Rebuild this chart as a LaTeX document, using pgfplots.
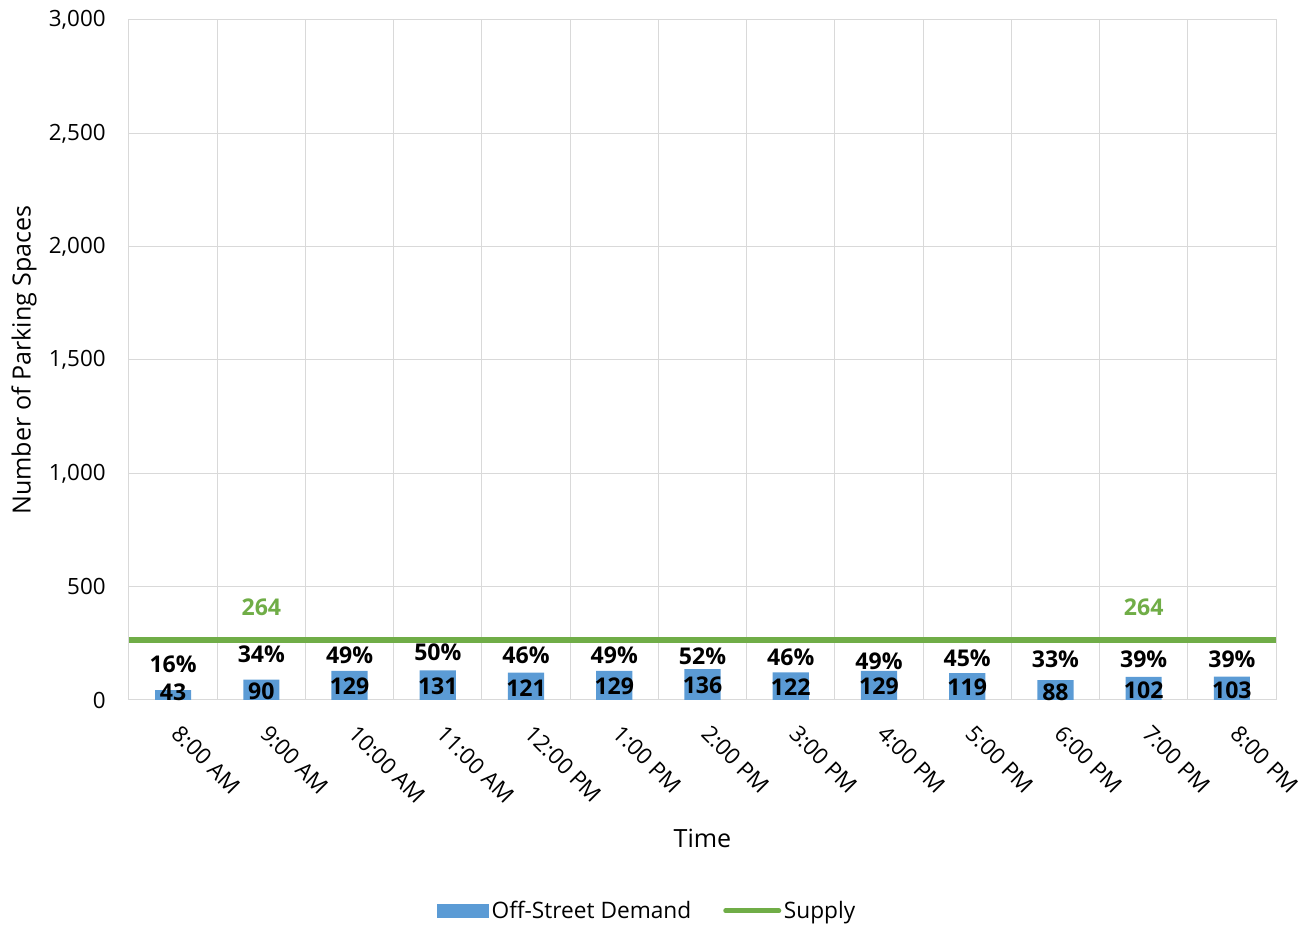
\documentclass[border=0pt]{standalone}
\usepackage{pgfplots}
\pgfplotsset{compat=1.18}
\usepackage{pgfplotstable}
\usepackage{fontspec}
\setmainfont{Open Sans}
\definecolor{barblue}{HTML}{5B9BD5}
\definecolor{supgreen}{HTML}{70AD47}
\definecolor{gridgray}{HTML}{D9D9D9}
\pgfplotstableread{
x demand pct py vy
0 43 16 159 35
1 90 34 203 40
2 129 49 199 62
3 131 50 212 62
4 121 46 199 53
5 129 49 199 62
6 136 52 194 66
7 122 46 190 57
8 129 49 172 62
9 119 45 185 57
10 88 33 181 35
11 102 39 181 44
12 103 39 181 44
}\data
\begin{document}
\begin{tikzpicture}
\begin{axis}[
  scale only axis, width=860.25pt, height=510pt,
  xmin=-0.5, xmax=12.5, ymin=0, ymax=3000,
  xtick={0,...,12},
  xticklabels={8:00 AM,9:00 AM,10:00 AM,11:00 AM,12:00 PM,1:00 PM,2:00 PM,3:00 PM,4:00 PM,5:00 PM,6:00 PM,7:00 PM,8:00 PM},
  minor xtick={-0.5,0.5,...,12.5},
  ytick={0,500,...,3000},
  ymajorgrids, xminorgrids,
  grid style={gridgray, line width=0.75pt},
  minor grid style={gridgray, line width=0.75pt},
  major tick length=0pt, minor tick length=0pt,
  axis line style={gridgray, line width=0.75pt},
  tick label style={font=\fontsize{16.8}{20}\selectfont},
  /pgf/number format/assume math mode=true,
  /pgf/number format/1000 sep={,},
  scaled y ticks=false,
  yticklabel style={xshift=-14pt},
  xticklabel style={yshift=-20pt, rotate=-45, anchor=west},
  xlabel={Time}, ylabel={Number of Parking Spaces},
  label style={font=\fontsize{18.8}{22}\selectfont},
  xlabel style={at={(axis description cs:0.5,-0.203)}, anchor=center},
  ylabel style={at={(axis description cs:-0.0915,0.5)}, anchor=center},
  legend style={at={(axis description cs:0.452,-0.31)}, anchor=center, draw=none,
    font=\fontsize{17}{20}\selectfont, legend columns=2,
    /tikz/every even column/.append style={column sep=22pt}},
  legend cell align=left,
  clip=false,
]
\addplot[ybar, fill=barblue, draw=none, bar width=0.41,
  legend image code/.code={\fill[barblue] (0pt,-5.25pt) rectangle (39pt,5.25pt);}]
  table[x=x, y=demand] {\data};
\addlegendentry{Off-Street Demand}
\addplot[supgreen, line width=4.8pt, mark=none,
  legend image code/.code={\draw[supgreen, line width=3.5pt, line cap=round] (0pt,0pt) -- (40pt,0pt);}]
  coordinates {(-0.5,264) (12.5,264)};
\addlegendentry{Supply}
\addplot[draw=none, mark=none, forget plot, nodes near coords,
  point meta=explicit symbolic,
  nodes near coords style={anchor=center, text=black, font=\fontsize{17.3}{20}\selectfont\bfseries}]
  table[x=x, y=vy, meta=demand] {\data};
\addplot[draw=none, mark=none, forget plot, nodes near coords={\pgfplotspointmeta\%},
  point meta=explicit symbolic,
  nodes near coords style={anchor=center, text=black, font=\fontsize{17.3}{20}\selectfont\bfseries}]
  table[x=x, y=py, meta=pct] {\data};
\addplot[draw=none, mark=none, forget plot, nodes near coords,
  point meta=explicit symbolic,
  nodes near coords style={anchor=center, text=supgreen, font=\fontsize{17.3}{20}\selectfont\bfseries}]
  coordinates {(1,410) [264] (11,410) [264]};
\end{axis}
\path (current axis.south west) ++(-96.75pt,-169.5pt);
\path (current axis.north east) ++(23.25pt,15pt);
\end{tikzpicture}
\end{document}
